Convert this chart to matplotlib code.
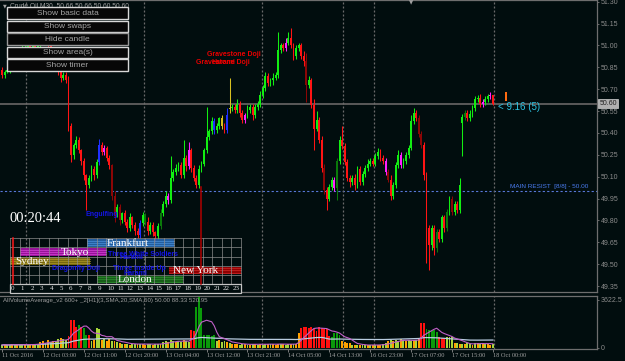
import numpy as np
import pandas as pd
import matplotlib
matplotlib.use("Agg")
import matplotlib.pyplot as plt
from matplotlib.patches import Rectangle

plt.rcParams['font.family'] = ['Liberation Sans', 'DejaVu Sans']

# ---------------- data ----------------
date_labels = ["11 Oct 2016", "12 Oct 03:00", "12 Oct 11:00", "12 Oct 20:00", "13 Oct 04:00",
               "13 Oct 12:00", "13 Oct 21:00", "14 Oct 05:00", "14 Oct 13:00", "16 Oct 23:00",
               "17 Oct 07:00", "17 Oct 15:00", "18 Oct 00:00"]
date_label_bars = [0, 16, 32, 48, 64, 80, 96, 112, 128, 144, 160, 176, 192]
day_separators = [9.5, 55.5, 101.5, 133.5, 145.5, 192.5]
price_ticks = [51.30, 51.15, 51.00, 50.85, 50.70, 50.55, 50.40, 50.25,
               50.10, 49.95, 49.80, 49.65, 49.50, 49.35]

closes = [
    50.80, 50.82, 50.83, 50.87, 50.91, 50.93, 50.92, 50.93, 50.97, 50.99,
    51.00, 50.99, 51.01, 50.99, 51.00, 51.04, 51.07, 51.04, 51.00, 50.98,
    50.92, 50.85, 50.82, 50.78, 50.80, 50.76, 50.45, 50.25, 50.32, 50.35,
    50.28, 50.21, 50.11, 50.04, 50.09, 50.15, 50.11, 50.20, 50.32, 50.27,
    50.30, 50.23, 50.18, 49.97, 49.84, 49.89, 49.80, 49.85, 49.79, 49.75,
    49.82, 49.77, 49.73, 49.70, 49.78, 49.84, 49.79, 49.73, 49.77, 49.72,
    49.69, 49.76, 49.85, 49.91, 49.97, 49.94, 50.09, 50.13, 50.16, 50.18,
    50.11, 50.23, 50.17, 50.28, 50.16, 50.09, 50.04, 50.15, 50.19, 50.28,
    50.37, 50.41, 50.48, 50.42, 50.45, 50.50, 50.45, 50.42, 50.52, 50.57,
    50.58, 50.56, 50.60, 50.54, 50.49, 50.52, 50.56, 50.58, 50.52, 50.58,
    50.60, 50.66, 50.71, 50.79, 50.74, 50.76, 50.78, 50.80, 50.97, 51.00,
    50.98, 51.02, 51.05, 51.00, 50.93, 50.98, 51.00, 50.93, 50.89, 50.73,
    50.76, 50.59, 50.43, 50.49, 50.35, 50.16, 50.01, 49.95, 50.03, 50.08,
    50.02, 50.21, 50.35, 50.31, 50.20, 50.09, 50.06, 50.09, 50.04, 50.15,
    50.06, 50.12, 50.16, 50.19, 50.21, 50.19, 50.24, 50.27, 50.23, 50.21,
    50.13, 50.08, 49.97, 50.04, 50.18, 50.25, 50.18, 50.21, 50.25, 50.30,
    50.48, 50.54, 50.50, 50.39, 50.32, 50.11, 49.75, 49.63, 49.75, 49.61,
    49.72, 49.67, 49.82, 49.75, 49.86, 49.95, 49.86, 49.91, 49.87, 50.04,
    50.51, 50.54, 50.50, 50.53, 50.57, 50.63, 50.64, 50.60, 50.61, 50.63,
    50.65, 50.66, 50.60]
# opens follow the previous close except where the chart shows a gap / doji
gap_opens = {0: 50.83, 89: 50.565, 180: 50.47}

upper_wick_cents = [
    2, 1, 2, 3, 1, 2, 2, 1, 3, 2,  2, 1, 3, 2, 2, 1, 3, 2, 1, 2,
    1, 2, 3, 1, 2, 2, 3, 2, 1, 3,  2, 1, 2, 1, 2, 3, 2, 2, 4, 2,
    2, 1, 2, 1, 3, 2, 2, 1, 2, 2,  3, 1, 2, 2, 2, 2, 1, 3, 2, 2,
    1, 2, 3, 2, 3, 2, 15, 2, 3, 2,  2, 12, 2, 6, 2, 2, 2, 3, 2, 2,
    21, 2, 3, 2, 2, 1, 2, 2, 5, 21,  2, 2, 3, 2, 2, 2, 3, 2, 2, 2,
    2, 3, 2, 3, 2, 2, 3, 2, 12, 2,  2, 3, 4, 7, 2, 2, 2, 2, 3, 6,
    3, 2, 4, 6, 2, 3, 3, 2, 2, 2,  2, 2, 3, 10, 2, 2, 2, 2, 3, 2,
    2, 2, 2, 3, 2, 2, 2, 3, 2, 2,  2, 2, 3, 2, 2, 3, 2, 2, 2, 2,
    4, 3, 2, 2, 2, 2, 2, 2, 2, 2,  2, 2, 2, 2, 2, 2, 2, 2, 2, 5,
    2, 2, 2, 3, 2, 2, 2, 3, 2, 2,  2, 2, 0]
lower_wick_cents = [
    2, 2, 1, 2, 2, 3, 1, 2, 2, 1,  2, 2, 1, 3, 2, 2, 1, 2, 2, 3,
    2, 1, 2, 3, 2, 2, 4, 5, 3, 2,  2, 3, 3, 17, 2, 2, 3, 2, 2, 2,
    2, 2, 3, 3, 5, 2, 3, 2, 2, 3,  2, 2, 3, 2, 2, 2, 2, 3, 2, 3,
    4, 2, 2, 2, 2, 3, 2, 2, 2, 2,  2, 2, 3, 2, 3, 2, 2, 2, 2, 2,
    2, 2, 2, 3, 2, 2, 2, 2, 2, 3,  2, 2, 2, 3, 2, 2, 2, 2, 3, 2,
    2, 2, 2, 2, 2, 2, 3, 2, 2, 2,  2, 2, 2, 2, 3, 2, 2, 2, 3, 12,
    2, 2, 15, 2, 2, 3, 3, 8, 2, 2,  2, 8, 2, 2, 2, 2, 3, 2, 3, 2,
    2, 2, 2, 2, 2, 2, 2, 2, 2, 2,  2, 2, 3, 2, 2, 2, 2, 2, 2, 2,
    2, 2, 2, 2, 2, 3, 24, 17, 3, 5,  3, 2, 2, 3, 2, 2, 2, 2, 2, 2,
    23, 2, 2, 2, 2, 2, 2, 2, 2, 2,  2, 2, 1]

candle_special = {38: 'blue', 54: 'blue', 83: 'blue', 88: 'blue',
                  21: 'magenta', 40: 'magenta', 65: 'magenta', 73: 'magenta', 95: 'magenta',
                  111: 'magenta', 130: 'magenta', 150: 'magenta', 156: 'magenta',
                  188: 'magenta', 191: 'magenta',
                  86: 'gold', 89: 'gold',
                  43: 'darkred', 44: 'darkred', 46: 'darkred', 119: 'darkred', 126: 'darkred',
                  151: 'darkred', 163: 'darkred', 164: 'darkred', 176: 'darkred',
                  56: 'darkgreen', 62: 'darkgreen', 131: 'darkgreen', 170: 'darkgreen',
                  174: 'darkgreen', 181: 'darkgreen'}
projected_bar = (197, 50.62, 50.68)   # orange candle after the last bar

volumes = [
    220, 260, 200, 240, 300, 210, 250, 230, 280, 260, 240, 300, 250, 270, 320,
    450, 520, 380, 600, 480, 550, 420, 700, 750, 650, 600,
    900, 2090, 2090, 1570, 1700, 1570, 1500, 950,
    1000, 550, 600, 1500, 1400, 600, 700, 500, 650, 550, 500, 450,
    350, 300, 280, 320, 260, 300, 330, 270, 290, 310, 250, 280, 300, 260, 330, 290, 320,
    450, 500, 420, 600, 550, 480, 520, 450, 580, 500, 470,
    1350, 1300, 3060, 3800, 3000, 1000, 1000, 950, 900, 950,
    500, 600, 450, 550, 420, 350, 300, 280, 320, 250, 270, 300, 260, 240, 280, 310,
    260, 290, 250, 270, 300, 330, 280, 260, 300, 320, 270, 250, 290, 310, 280, 300,
    1100, 1500, 1600, 1550, 1500, 1550, 1400, 1300, 1550, 1500, 1450, 1400, 900,
    800, 1100, 1150, 1000,
    500, 450, 400, 350, 250, 220, 200, 240, 210, 230, 200, 250, 220, 240, 210,
    260, 300, 350, 500, 600, 550, 600, 500, 650, 600, 550, 600, 500, 580, 620,
    650, 1870, 1870, 1400, 1350, 1300, 1350, 1200, 800, 750, 780, 850, 820, 800,
    400, 350, 300, 320, 280, 350, 300, 260, 400, 380, 300, 350, 280, 320, 250, 300]
volume_kind = ("yoyyoyoyyoyooyy" "ooyoyoyyoyy" "rrrrgrgg" "ryoyyoyooyoy"
               "oyoyoyyoyooyyoyyo" "yyoyyoyyoyy" "rrgggggggg"
               "yoyyoyoooyyoyoyoyoyyoyoooyoyyoyo" "orrrrrrrrrrrr" "gggg"
               "ooooyoyoyyoyoyooyyoyoyyoyoyyoy" "orrgggggrrryyy" "oyoyoyyoyoyoyooy")
volume_top_label = 3622.5

current_price = 50.60
main_resist = 50.00

session_names = ["Frankfurt", "Tokyo", "Sydney", "New York", "London"]
session_start = [8, 1, 0, 16.5, 9]
session_end = [17, 10, 8.3, 24, 18]

buttons = ["Show basic data", "Show swaps", "Hide candle", "Show area(s)", "Show timer"]

N = len(closes)
assert len(upper_wick_cents) == N and len(lower_wick_cents) == N
assert len(volumes) == N and len(volume_kind) == N, (len(volumes), len(volume_kind))

# ---------------- styling ----------------
BG = '#010d0e'
GRAY = '#9a9a9a'
W, H = 625, 361
PX_PER_BAR = 2.557
X0 = 2.0
PX_PER_PRICE = 145.8


def bar_at(px):
    return (px - X0) / PX_PER_BAR


fig = plt.figure(figsize=(W / 100, H / 100), dpi=100, facecolor=BG)

# main price axes: pixel rows 0..292, cols 0..597
ax = fig.add_axes([0, 1 - 292 / H, 597 / W, 292 / H], facecolor=BG)
ax.set_xlim(bar_at(0), bar_at(597))
ax.set_ylim(51.30 - (292 - 1.7) / PX_PER_PRICE, 51.30 + 1.7 / PX_PER_PRICE)

idx = np.arange(N)
c = np.array(closes)
o = np.array([gap_opens.get(i, closes[i - 1] if i > 0 else closes[0]) for i in range(N)])
hi = np.maximum(o, c) + np.array(upper_wick_cents) / 100
lo = np.minimum(o, c) - np.array(lower_wick_cents) / 100

palette = {'blue': '#2030ff', 'magenta': '#ff20ff', 'gold': '#d8c020',
           'darkred': '#8c0606', 'darkgreen': '#0a7a0a'}
cols = []
for i in range(N):
    if i in candle_special:
        cols.append(palette[candle_special[i]])
    elif c[i] >= o[i]:
        cols.append('#12ee12')
    else:
        cols.append('#ff1414')

ax.axhline(current_price, color='#5a5a5a', lw=1.4, zorder=1)
ax.axhline(main_resist, color='#5878d8', lw=0.8, ls=(0, (2, 2)), zorder=1)
for s in day_separators:
    ax.axvline(s, color='#6a6a6a', lw=0.9, ls=(0, (1.6, 1.6)), zorder=1)

ax.vlines(idx, lo, hi, colors=cols, lw=0.75, zorder=3)
ax.bar(idx, np.maximum(np.abs(c - o), 0.004), bottom=np.minimum(o, c), width=0.72,
       color=cols, linewidth=0, zorder=4)
pb, plo, phi = projected_bar
ax.bar([pb], [phi - plo], bottom=[plo], width=0.8, color='#ff6a10', linewidth=0, zorder=4)

ax.yaxis.tick_right()
ax.set_yticks(price_ticks)
ax.set_yticklabels([f"{p:.2f}" for p in price_ticks])
ax.tick_params(axis='y', colors='#7a7a7a', labelcolor='#8c8c8c', labelsize=5,
               length=1.6, width=0.6, pad=1.2)
ax.set_xticks([])
for side in ['left']:
    ax.spines[side].set_visible(False)
for side in ['right', 'top', 'bottom']:
    ax.spines[side].set_color('#6e6e6e')
    ax.spines[side].set_linewidth(0.9)

ax.text(1.004, current_price, f"{current_price:.2f}", transform=ax.get_yaxis_transform(),
        fontsize=5, color='#202020', va='center', ha='left', clip_on=False, zorder=20,
        bbox=dict(boxstyle='square,pad=0.15', fc='#b0b0b0', ec='#d0d0d0', lw=0.5))
ax.text(bar_at(498), current_price - 0.02, "< 9:16 (5)", fontsize=7, color='#2cc4e4',
        va='center', ha='left', zorder=6)
ax.text(bar_at(510), main_resist + 0.012, f"MAIN RESIST  [8/8] - {main_resist:.2f}",
        fontsize=4.6, color='#4a7cf0', va='bottom', ha='left', zorder=6)

# volume axes: pixel rows 296..349
vax = fig.add_axes([0, 1 - 349 / H, 597 / W, 53 / H], facecolor=BG)
vax.set_xlim(bar_at(0), bar_at(597))
vpp = volume_top_label / 48.5
vax.set_ylim(-1 * vpp, volume_top_label + 3.5 * vpp)
vmap = {'r': '#ff1010', 'g': '#0a9a0a', 'y': '#a6d63a', 'o': '#ffa000'}
vax.bar(idx, volumes, width=0.75, color=[vmap[k] for k in volume_kind], linewidth=0, zorder=3)
vs = pd.Series(volumes, dtype=float)
vax.plot(idx, vs.rolling(50, min_periods=1).mean(), color='#b8cce0', lw=0.9, zorder=4)
vax.plot(idx, vs.rolling(7, min_periods=1).mean(), color='#c060c8', lw=0.8, zorder=5)
for s in day_separators:
    vax.axvline(s, color='#6a6a6a', lw=0.9, ls=(0, (1.6, 1.6)), zorder=1)
vax.yaxis.tick_right()
vax.set_yticks([0, volume_top_label])
vax.set_yticklabels(["0", f"{volume_top_label:g}"])
vax.tick_params(axis='y', colors='#7a7a7a', labelcolor='#8c8c8c', labelsize=5,
                length=1.6, width=0.6, pad=1.2)
vax.set_xticks(date_label_bars)
vax.set_xticklabels(date_labels, fontsize=4.6, family='Liberation Serif', color='#a0a0a0', ha='left')
vax.tick_params(axis='x', colors='#8c8c8c', length=2, width=0.6, pad=1.2)
for lbl in vax.get_xticklabels():
    lbl.set_color('#a0a0a0')
vax.spines['left'].set_visible(False)
for side in ['right', 'top', 'bottom']:
    vax.spines[side].set_color('#6e6e6e')
    vax.spines[side].set_linewidth(0.9)

# ---------------- overlay in pixel space ----------------
ov = fig.add_axes([0, 0, 1, 1])
ov.set_xlim(0, W)
ov.set_ylim(H, 0)
ov.axis('off')
ov.patch.set_visible(False)
ov.set_zorder(10)

# title & shift marker
ov.text(3, 5.5, "\u25bc", fontsize=3.5, color='#a0a0a0', va='center', ha='left',
        family='DejaVu Sans')
ov.text(10, 5.5, "Crude Oil,M30  50.66 50.66 50.60 50.60", fontsize=4.8, color='#a0a0a0',
        va='center', ha='left')
ov.text(411, 2.5, "\u25bc", fontsize=4, color='#a0a0a0', va='center', ha='center',
        family='DejaVu Sans')
ov.text(3, 300.5, "AllVolumeAverage_v2 600+ _2[H1](3,SMA,20,SMA,50) 50.00 88.33 520.95",
        fontsize=4.4, color='#a0a0a0', va='center', ha='left')

# buttons
btn_tops = [7.3, 20.5, 33.3, 46.5, 59.3]
for name, top in zip(buttons, btn_tops):
    ec = '#9a9a9a' if name == "Hide candle" else '#d8d8d8'
    ov.add_patch(Rectangle((7, top), 121, 11.6, fc='#070707', ec=ec, lw=1.0, zorder=5))
    ov.text(67.5, top + 6, name, fontsize=6, color='#a4a4a4', ha='center', va='center', zorder=6)

# timer
ov.text(10, 219, "00:20:44", fontsize=10.5, color='white', family='Liberation Serif',
        va='center', ha='left')

# sessions widget
bx0, bx1, by0, row_h = 10, 241, 238.3, 9.15
colw = (bx1 - bx0) / 24
sess_fill = ['#2a6cb8', '#b214b2', '#8c7812', '#a80000', '#1c6e1c']
sess_line = ['#4a92dc', '#d846d8', '#b09a24', '#d42a2a', '#2e922e']
label_pos = [(128, 243), (75, 252.3), (32, 261.5), (196, 270.5), (135, 279.5)]


def hx(h):
    return bx0 + h * colw


for r, (nm, s0, s1) in enumerate(zip(session_names, session_start, session_end)):
    y = by0 + r * row_h
    ov.add_patch(Rectangle((hx(s0), y + 0.8), hx(s1) - hx(s0), row_h - 1.6,
                           fc=sess_fill[r], ec='none', alpha=0.85, zorder=2))
    for k in range(3):
        ov.plot([hx(s0), hx(s1)], [y + 2.2 + k * 2.3] * 2, color=sess_line[r], lw=0.6,
                alpha=0.8, zorder=2)
by1 = by0 + 5 * row_h
for k in range(25):
    ov.plot([hx(k)] * 2, [by0, by1], color='#8c8c8c', lw=0.5, zorder=3)
for r in range(6):
    ov.plot([bx0, bx1], [by0 + r * row_h] * 2, color='#8c8c8c', lw=0.5, zorder=3)
ov.add_patch(Rectangle((bx0, by1), bx1 - bx0, 8.6, fc=BG, ec='#c4c4c4', lw=0.9, zorder=3))
for k in range(24):
    ov.text(hx(k) + 1.2, by1 + 4.5, str(k), fontsize=5, color='#e8e8e8',
            family='Liberation Serif', ha='left', va='center', zorder=4)
for nm, (lx, ly) in zip(session_names, label_pos):
    ov.text(lx, ly, nm, fontsize=8, color='white', family='Liberation Serif',
            ha='center', va='center', zorder=6)
ov.plot([12.6, 12.6], [by0, by1], color='#ff1a1a', lw=1.1, zorder=4)
ov.plot([200.5, 200.5], [187, by1], color='#b00000', lw=1.1, zorder=4)

# pattern labels
blue = '#1414e6'
red = '#e80000'
pat = dict(fontsize=5, fontweight='bold', ha='left', va='center', zorder=7)
ov.text(207, 54, "Gravestone Doji", color=red, **pat)
ov.text(196, 63, "Gravestone Doji", color=red, **pat)
ov.text(211, 63, "Harami", color=red, **pat)
ov.text(86, 214, "Engulfing", color=blue, **pat)
ov.text(108, 254, "Three White Soldiers", color=blue, **pat)
ov.text(120, 257.5, "Harami", color=blue, **pat)
ov.text(52, 268, "Dragonfly Doji", color=blue, **pat)
ov.text(113, 269, "Three Inside Up", color=blue, **pat)
ov.text(124, 273.5, "Harami", color=blue, **pat)

fig.savefig("out.png", dpi=100, facecolor=BG)
